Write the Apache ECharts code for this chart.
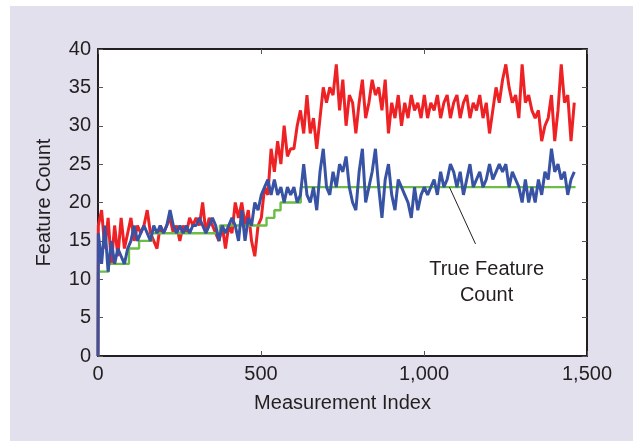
<!DOCTYPE html>
<html>
<head>
<meta charset="utf-8">
<script src="https://cdn.jsdelivr.net/npm/echarts@6/dist/echarts.min.js"></script>
<style>
  html, body { margin: 0; padding: 0; background: #fff; }
  #wrap { position: relative; width: 633px; height: 441px; overflow: hidden; }
  #panel { position: absolute; left: 10px; top: 6px; right: 0; bottom: 0; background: #e3e0ed; }
  #chart { position: absolute; left: 0; top: 0; width: 633px; height: 441px; }
</style>
</head>
<body>
<div id="wrap">
  <div id="panel"></div>
  <div id="chart"></div>
</div>
<script>
// measurement index of samples: first point at 0, then every 10 starting at 1
const sampleStep = 10;

// estimated feature count (red)
const estimatedCount = [
  0,
  17, 19, 14, 18, 12, 17, 13, 18, 14, 16,
  18, 15, 17, 16, 17, 19, 16, 15, 14, 17,
  16, 17, 18, 16, 17, 15, 17, 16, 18, 17,
  18, 17, 20, 16, 18, 17, 16, 15, 17, 14,
  17, 16, 20, 18, 20, 17, 19, 15, 13, 17,
  18, 22, 21, 27, 24, 28, 25, 30, 26, 27,
  27, 30, 32, 29, 34, 29, 31, 27, 31, 35,
  33, 35, 34, 38, 32, 36, 30, 34, 33, 29,
  33, 36, 31, 33, 36, 34, 35, 32, 36, 29,
  33, 31, 34, 30, 33, 31, 34, 32, 33, 31,
  34, 31, 33, 32, 34, 31, 33, 34, 31, 33,
  34, 31, 33, 34, 31, 33, 32, 34, 31, 33,
  29, 32, 35, 33, 36, 38, 35, 33, 34, 31,
  38, 33, 34, 32, 31, 32, 28, 30, 31, 34,
  28, 32, 38, 33, 34, 28, 33
];

// second estimate (blue)
const filteredCount = [
  0,
  16, 12, 17, 11, 15, 12, 14, 13, 12, 14,
  15, 17, 15, 16, 17, 16, 15, 17, 16, 17,
  16, 17, 19, 17, 16, 17, 16, 17, 16, 17,
  17, 18, 17, 16, 17, 18, 17, 15, 17, 16,
  17, 18, 17, 15, 19, 15, 18, 17, 20, 19,
  21, 22, 23, 21, 23, 21, 22, 20, 22, 21,
  22, 20, 21, 25, 21, 20, 22, 19, 24, 27,
  22, 21, 24, 22, 25, 24, 26, 22, 20, 19,
  24, 27, 20, 22, 24, 27, 22, 18, 23, 25,
  21, 19, 23, 22, 21, 20, 18, 22, 19, 21,
  22, 21, 22, 23, 21, 24, 22, 23, 25, 24,
  22, 24, 21, 23, 25, 22, 23, 24, 22, 23,
  25, 23, 24, 25, 24, 25, 22, 24, 23, 22,
  20, 23, 20, 22, 20, 23, 21, 24, 23, 27,
  24, 25, 23, 24, 21, 23, 24
];

// true feature count (green), as step changes
const trueIndex = [0, 0, 33, 95, 126, 164, 374, 517, 541, 560, 622, 1465];
const trueCount = [0, 11, 12, 14, 15, 16, 17, 18, 19, 20, 22, 22];

const xTicks = [0, 500, 1000, 1500];
const yTicks = [0, 5, 10, 15, 20, 25, 30, 35, 40];

const annotationText = 'True Feature\nCount';
const pointerFrom = [1078, 22];
const pointerTo = [1158, 14.6];
const annotationAt = [1192, 9.6];

function sampleX(i) {
  return i === 0 ? 0 : (i - 1) * sampleStep + 1;
}
const redData = estimatedCount.map((v, i) => [sampleX(i), v]);
const blueData = filteredCount.map((v, i) => [sampleX(i), v]);
const greenData = trueIndex.map((x, i) => [x, trueCount[i]]);

const font = "'Liberation Sans', Arial, Helvetica, sans-serif";
const textColor = '#231f20';

const chart = echarts.init(document.getElementById('chart'));

const baseX = {
  type: 'value',
  min: xTicks[0],
  max: xTicks[xTicks.length - 1],
  interval: 500,
  axisLine: { show: true, onZero: false, lineStyle: { color: '#231f20', width: 2 } },
  axisTick: { show: true, inside: true, length: 5, lineStyle: { color: '#555', width: 1 } },
  splitLine: { show: false }
};
const baseY = {
  type: 'value',
  min: yTicks[0],
  max: yTicks[yTicks.length - 1],
  interval: 5,
  axisLine: { show: true, onZero: false, lineStyle: { color: '#231f20', width: 2 } },
  axisTick: { show: true, inside: true, length: 5, lineStyle: { color: '#555', width: 1 } },
  splitLine: { show: false }
};

chart.setOption({
  animation: false,
  backgroundColor: 'transparent',
  grid: {
    left: 98, top: 49, width: 489, height: 307,
    show: true, backgroundColor: '#ffffff', borderWidth: 0
  },
  xAxis: [
    Object.assign({}, baseX, {
      position: 'bottom',
      name: 'Measurement Index',
      nameLocation: 'middle',
      nameGap: 37,
      nameTextStyle: { fontFamily: font, fontSize: 20, color: textColor },
      axisLabel: {
        margin: 8,
        fontFamily: font, fontSize: 20, color: textColor,
        formatter: (v) => v.toLocaleString('en-US')
      }
    }),
    Object.assign({}, baseX, {
      position: 'top',
      axisLabel: { show: false }
    })
  ],
  yAxis: [
    Object.assign({}, baseY, {
      position: 'left',
      name: 'Feature Count',
      nameLocation: 'middle',
      nameGap: 44,
      nameTextStyle: { fontFamily: font, fontSize: 20, color: textColor },
      axisLabel: { margin: 7, fontFamily: font, fontSize: 20, color: textColor }
    }),
    Object.assign({}, baseY, {
      position: 'right',
      axisLabel: { show: false }
    })
  ],
  series: [
    {
      name: 'Estimated',
      type: 'line',
      data: redData,
      showSymbol: false,
      lineStyle: { color: '#ee2225', width: 3 },
      z: 2
    },
    {
      name: 'True Feature Count',
      type: 'line',
      step: 'end',
      data: greenData,
      showSymbol: false,
      lineStyle: { color: '#6bbd45', width: 2.4 },
      z: 3,
      markLine: {
        silent: true,
        symbol: ['none', 'none'],
        lineStyle: { color: '#231f20', width: 1, type: 'solid' },
        label: { show: false },
        data: [[{ coord: pointerFrom }, { coord: pointerTo }]]
      },
      markPoint: {
        silent: true,
        symbol: 'circle',
        symbolSize: 0,
        data: [{ coord: annotationAt, value: annotationText }],
        label: {
          show: true,
          position: 'inside',
          formatter: annotationText,
          fontFamily: font, fontSize: 20, lineHeight: 26,
          color: textColor, align: 'center'
        }
      }
    },
    {
      name: 'Filtered',
      type: 'line',
      data: blueData,
      showSymbol: false,
      lineStyle: { color: '#3953a4', width: 3 },
      z: 4
    }
  ]
});
</script>
</body>
</html>
